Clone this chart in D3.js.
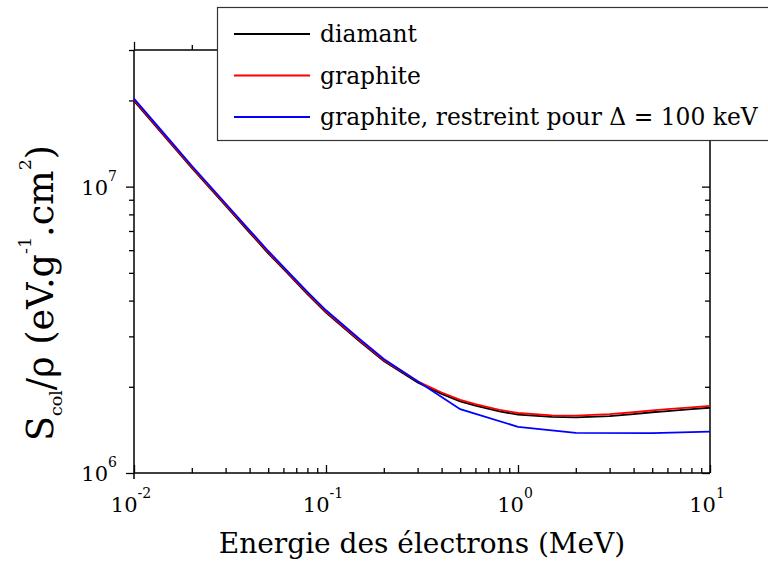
<!DOCTYPE html>
<html>
<head>
<meta charset="utf-8">
<script src="https://cdn.jsdelivr.net/npm/d3@7"></script>
<style>
  body { margin: 0; background: #fff; }
  svg { display: block; }
  text { font-family: 'DejaVu Serif', serif; }
</style>
</head>
<body>
<svg id="chart" width="768" height="562"></svg>
<script>
// energies in MeV, stopping powers in eV.g-1.cm2
const energies = [0.01, 0.015, 0.02, 0.03, 0.04, 0.05, 0.06, 0.08, 0.1, 0.15, 0.2, 0.3, 0.4, 0.5, 0.6, 0.8, 1, 1.5, 2, 3, 4, 5, 6, 8, 10];
const diamant = [19.94e6, 14.54e6, 11.63e6, 8.58e6, 6.91e6, 5.85e6, 5.16e6, 4.21e6, 3.63e6, 2.875e6, 2.46e6, 2.07e6, 1.89e6, 1.78e6, 1.72e6, 1.64e6, 1.60e6, 1.57e6, 1.565e6, 1.58e6, 1.605e6, 1.63e6, 1.645e6, 1.67e6, 1.69e6];
const graphite = [20.1e6, 14.66e6, 11.72e6, 8.65e6, 6.97e6, 5.90e6, 5.20e6, 4.25e6, 3.66e6, 2.90e6, 2.48e6, 2.09e6, 1.91e6, 1.80e6, 1.74e6, 1.66e6, 1.62e6, 1.59e6, 1.585e6, 1.605e6, 1.63e6, 1.655e6, 1.67e6, 1.695e6, 1.715e6];
const restrictedEnergies = [0.01, 0.015, 0.02, 0.03, 0.04, 0.05, 0.06, 0.08, 0.1, 0.15, 0.2, 0.5, 1, 2, 5, 10];
const graphiteRestricted = [20.3e6, 14.8e6, 11.83e6, 8.73e6, 7.04e6, 5.96e6, 5.25e6, 4.29e6, 3.70e6, 2.93e6, 2.50e6, 1.67e6, 1.45e6, 1.38e6, 1.378e6, 1.395e6];

const xExponents = [-2, -1, 0, 1];
const yExponents = [6, 7];
const legendLabels = ['diamant', 'graphite', 'graphite, restreint pour \u0394 = 100 keV'];
const seriesColors = ['#000000', '#ff0000', '#0000ff'];

const svg = d3.select('#chart');
const pLeft = 134, pRight = 710, pTop = 50, pBottom = 473;

const x = d3.scaleLog().domain([0.01, 10]).range([pLeft, pRight]);
const y = d3.scaleLog().domain([1e6, 3e7]).range([pBottom, pTop]);

const isMajor = v => Math.abs(Math.log10(v) - Math.round(Math.log10(v))) < 1e-9;
const xMinor = x.ticks().filter(v => !isMajor(v));
const yMinor = y.ticks().filter(v => !isMajor(v));
const xMajor = xExponents.map(e => Math.pow(10, e));
const yMajor = yExponents.map(e => Math.pow(10, e));

// Ticks: left/right point left, bottom/top point up
function ticks(axis, vals, size, tr) {
  svg.append('g').attr('transform', tr)
    .call(axis.tickValues(vals).tickSize(size).tickSizeOuter(0).tickFormat(''))
    .call(g => g.select('.domain').remove())
    .call(g => g.selectAll('line').attr('stroke', '#000').attr('stroke-width', 1.3));
}
ticks(d3.axisLeft(y), yMinor, 5, `translate(${pLeft},0)`);
ticks(d3.axisLeft(y), yMajor, 8, `translate(${pLeft},0)`);
ticks(d3.axisLeft(y), yMinor, 5, `translate(${pRight},0)`);
ticks(d3.axisLeft(y), yMajor, 8, `translate(${pRight},0)`);
ticks(d3.axisTop(x), xMinor, 5, `translate(0,${pBottom})`);
ticks(d3.axisTop(x), xMajor, 8, `translate(0,${pBottom})`);
ticks(d3.axisTop(x), xMinor, 5, `translate(0,${pTop})`);
ticks(d3.axisTop(x), xMajor, 8, `translate(0,${pTop})`);

// Frame
const frame = svg.append('g').attr('stroke', '#000').attr('stroke-width', 1.5);
frame.append('line').attr('x1', pLeft).attr('x2', pLeft).attr('y1', pTop).attr('y2', pBottom + 6);
frame.append('line').attr('x1', pRight).attr('x2', pRight).attr('y1', pTop).attr('y2', pBottom);
frame.append('line').attr('x1', pLeft).attr('x2', pRight).attr('y1', pBottom).attr('y2', pBottom);
frame.append('line').attr('x1', pLeft).attr('x2', pRight).attr('y1', pTop).attr('y2', pTop);

// Tick labels
const xl = svg.append('g').attr('font-size', 21).attr('fill', '#000');
xMajor.forEach((v, i) => {
  const t = xl.append('text').attr('x', x(v) - 3).attr('y', 512).attr('text-anchor', 'middle');
  t.append('tspan').text('10');
  t.append('tspan').attr('font-size', 14).attr('dy', -14).text(xExponents[i]);
});
const yl = svg.append('g').attr('font-size', 21).attr('fill', '#000');
yMajor.forEach((v, i) => {
  const t = yl.append('text').attr('x', 117).attr('y', y(v) + 8).attr('text-anchor', 'end');
  t.append('tspan').text('10');
  t.append('tspan').attr('font-size', 14).attr('dy', -14).text(yExponents[i]);
});

// Axis titles
svg.append('text').attr('x', 422).attr('y', 553).attr('text-anchor', 'middle')
  .attr('font-size', 28).text('Energie des \u00e9lectrons (MeV)');

const yt = svg.append('text').attr('transform', 'translate(53,293) rotate(-90)')
  .attr('text-anchor', 'middle').attr('font-size', 36.5);
yt.append('tspan').text('S');
yt.append('tspan').attr('font-size', 17.5).attr('dy', 9).text('col');
yt.append('tspan').attr('dy', -9).text('/\u03c1 (eV.g');
yt.append('tspan').attr('font-size', 17.5).attr('dy', -22).text('-1');
yt.append('tspan').attr('dy', 22).text('.cm');
yt.append('tspan').attr('font-size', 17.5).attr('dy', -22).text('2');
yt.append('tspan').attr('dy', 22).text(')');

// Curves
const line = d3.line().x(d => x(d[0])).y(d => y(d[1]));
const series = [
  d3.zip(energies, diamant),
  d3.zip(energies, graphite),
  d3.zip(restrictedEnergies, graphiteRestricted),
];
series.forEach((s, i) => {
  svg.append('path').datum(s).attr('d', line)
    .attr('fill', 'none').attr('stroke', seriesColors[i]).attr('stroke-width', 1.8);
});

// Legend
const lg = svg.append('g');
lg.append('rect').attr('x', 217.5).attr('y', 7.5).attr('width', 600).attr('height', 133)
  .attr('fill', '#fff').attr('stroke', '#333').attr('stroke-width', 1.2);
legendLabels.forEach((lab, i) => {
  const ly = 34 + i * 41.5;
  lg.append('line').attr('x1', 234).attr('x2', 310).attr('y1', ly).attr('y2', ly)
    .attr('stroke', seriesColors[i]).attr('stroke-width', 1.8);
  lg.append('text').attr('x', 320).attr('y', ly + 8).attr('font-size', 23.4).text(lab);
});
</script>
</body>
</html>
